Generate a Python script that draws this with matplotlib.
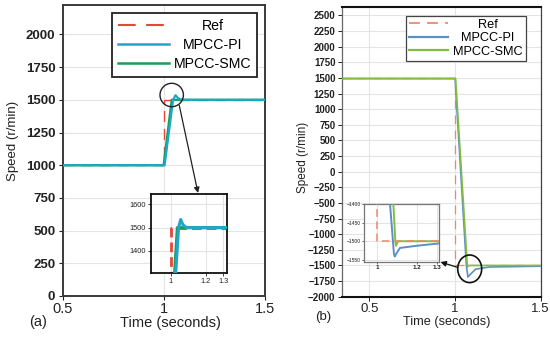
import matplotlib
matplotlib.use("Agg")
import matplotlib.pyplot as plt
from matplotlib.patches import Ellipse, FancyArrowPatch
from matplotlib.lines import Line2D

plt.rcParams['font.family'] = ['Liberation Sans', 'DejaVu Sans']

# ---------------- data ----------------
# panel (a): step 1000 -> 1500 r/min
a_ref_t = [0.5, 1.0, 1.0, 1.5]
a_ref_v = [1000, 1000, 1500, 1500]
a_pi_t = [0.5, 1.003, 1.045, 1.057, 1.07, 1.09, 1.5]
a_pi_v = [1000, 1000, 1500, 1535, 1512, 1500, 1500]
a_smc_t = [0.5, 0.998, 1.038, 1.5]
a_smc_v = [1000, 1000, 1500, 1500]

# panel (b): step 1500 -> -1500 r/min (main plot)
b_ref_t = [0.338, 1.0, 1.0, 1.5]
b_ref_v = [1500, 1500, -1500, -1500]
b_pi_t = [0.338, 1.0, 1.066, 1.075, 1.09, 1.12, 1.2, 1.5]
b_pi_v = [1490, 1490, -1500, -1685, -1640, -1560, -1525, -1512]
b_smc_t = [0.338, 1.003, 1.072, 1.08, 1.5]
b_smc_v = [1490, 1490, -1525, -1500, -1500]

# panel (b) zoomed inset
bi_ref_t = [1.0, 1.0, 1.308]
bi_ref_v = [-1380, -1500, -1500]
bi_pi_t = [1.063, 1.079, 1.084, 1.088, 1.097, 1.114, 1.2, 1.308]
bi_pi_v = [-1390, -1500, -1535, -1541, -1532, -1518, -1512, -1506]
bi_smc_t = [1.080, 1.091, 1.094, 1.104, 1.308]
bi_smc_v = [-1390, -1500, -1512, -1500, -1500]

labels = ["Ref", "MPCC-PI", "MPCC-SMC"]
a_yticks = [0, 250, 500, 750, 1000, 1250, 1500, 1750, 2000]
b_yticks = [-2000, -1750, -1500, -1250, -1000, -750, -500, -250, 0,
            250, 500, 750, 1000, 1250, 1500, 1750, 2000, 2250, 2500]
a_xticks = [0.5, 1, 1.5]
b_xticks = [0.5, 1, 1.5]
ai_yticks = [1400, 1500, 1600]
bi_yticks = [-1550, -1500, -1450, -1400]
in_xticks = [1, 1.2, 1.3]

# colours
ca_ref, ca_pi, ca_smc = '#e5463d', '#1fa6c9', '#1b9c58'
cb_ref, cb_pi, cb_smc = '#ea8a6c', '#5b8fc8', '#84bd3f'

W, H = 550, 339
def fx(x): return x / W
def fy(y): return 1 - y / H

fig = plt.figure(figsize=(5.5, 3.39), dpi=100)
fig.patch.set_facecolor('white')

ax_a = fig.add_axes([fx(63), fy(296), 202 / W, 291 / H])
ax_b = fig.add_axes([fx(341.7), fy(296.7), 199 / W, 289.4 / H])
ins_a = fig.add_axes([fx(151), fy(273.3), 75.7 / W, 79.3 / H])
ins_b = fig.add_axes([fx(364), fy(261.7), 75 / W, 57.7 / H])

grid_kw = dict(color='#e4e4e4', lw=0.8)

# ---------- panel (a) ----------
ax_a.plot(a_ref_t, a_ref_v, color=ca_ref, lw=1.0, dashes=(8, 5), zorder=2)
ax_a.plot(a_smc_t, a_smc_v, color=ca_smc, lw=1.6, zorder=3)
ax_a.plot(a_pi_t, a_pi_v, color=ca_pi, lw=1.6, zorder=4)
ax_a.set_xlim(0.5, 1.5)
ax_a.set_ylim(0, 2225)
ax_a.set_xticks(a_xticks)
ax_a.set_xticklabels(['0.5', '1', '1.5'])
ax_a.set_yticks(a_yticks)
ax_a.grid(True, **grid_kw)
ax_a.set_axisbelow(True)
ax_a.tick_params(axis='y', labelsize=9.5, length=3, width=0.8, pad=2.5, colors='#222')
ax_a.tick_params(axis='x', labelsize=10.5, length=3, width=0.8, pad=1.5, colors='#222')
for lbl in ax_a.get_yticklabels():
    lbl.set_fontweight('bold')
for s in ax_a.spines.values():
    s.set_color('#3a3a3a'); s.set_linewidth(1.4)

ha = [Line2D([], [], color=ca_ref, lw=1.5, dashes=(8.5, 5)),
      Line2D([], [], color=ca_pi, lw=1.8),
      Line2D([], [], color=ca_smc, lw=1.8)]
leg_a = ax_a.legend(ha, labels, loc='upper right', bbox_to_anchor=(0.96, 0.9725),
                    borderaxespad=0, fontsize=10.2, handlelength=3.6, handletextpad=0.35,
                    labelspacing=0.38, borderpad=0.4, fancybox=False, framealpha=1,
                    edgecolor='#222')
leg_a.get_frame().set_linewidth(1.3)

# inset (a)
ins_a.plot(a_ref_t, a_ref_v, color=ca_ref, lw=2.0, dashes=(3.5, 1.8), zorder=2)
ins_a.plot(a_smc_t, a_smc_v, color=ca_smc, lw=2.2, zorder=3)
ins_a.plot(a_pi_t, a_pi_v, color=ca_pi, lw=2.2, zorder=4)
ins_a.set_xlim(0.888, 1.319)
ins_a.set_ylim(1303, 1645)
ins_a.set_xticks(in_xticks)
ins_a.set_xticklabels(['1', '1.2', '1.3'])
ins_a.set_yticks(ai_yticks)
ins_a.grid(True, **grid_kw)
ins_a.set_axisbelow(True)
ins_a.tick_params(labelsize=5.3, length=2, width=0.6, pad=1.5, colors='#222')
for s in ins_a.spines.values():
    s.set_color('#111'); s.set_linewidth(1.3)

# ---------- panel (b) ----------
ax_b.plot(b_pi_t, b_pi_v, color=cb_pi, lw=1.2, zorder=3)
ax_b.plot(b_smc_t, b_smc_v, color=cb_smc, lw=1.2, zorder=4)
ax_b.plot(b_ref_t, b_ref_v, color=cb_ref, lw=0.9, dashes=(7, 5), zorder=2)
ax_b.set_xlim(0.338, 1.5)
ax_b.set_ylim(-2000, 2630)
ax_b.set_xticks(b_xticks)
ax_b.set_xticklabels(['0.5', '1', '1.5'])
ax_b.set_yticks(b_yticks)
ax_b.grid(True, **grid_kw)
ax_b.set_axisbelow(True)
ax_b.tick_params(axis='y', labelsize=7, length=3, width=0.7, pad=1.5, colors='#222')
ax_b.tick_params(axis='x', labelsize=9.5, length=3, width=0.7, pad=1.5, colors='#222')
for lbl in ax_b.get_yticklabels():
    lbl.set_fontweight('bold')
ax_b.spines['top'].set_color('#111'); ax_b.spines['top'].set_linewidth(1.5)
ax_b.spines['bottom'].set_color('#111'); ax_b.spines['bottom'].set_linewidth(1.5)
ax_b.spines['left'].set_color('#666'); ax_b.spines['left'].set_linewidth(0.9)
ax_b.spines['right'].set_color('#444'); ax_b.spines['right'].set_linewidth(0.9)

hb = [Line2D([], [], color=cb_ref, lw=1.3, dashes=(6, 4)),
      Line2D([], [], color=cb_pi, lw=1.6),
      Line2D([], [], color=cb_smc, lw=1.6)]
leg_b = ax_b.legend(hb, labels, loc='upper right', bbox_to_anchor=(0.9246, 0.971),
                    borderaxespad=0, fontsize=9.2, handlelength=3.0, handletextpad=0.4,
                    labelspacing=0.12, borderpad=0.25, fancybox=False, framealpha=1,
                    edgecolor='#444')
leg_b.get_frame().set_linewidth(0.9)

# inset (b)
ins_b.plot(bi_pi_t, bi_pi_v, color=cb_pi, lw=1.4, zorder=3)
ins_b.plot(bi_smc_t, bi_smc_v, color=cb_smc, lw=1.4, zorder=4)
ins_b.plot(bi_ref_t, bi_ref_v, color=cb_ref, lw=1.1, dashes=(5, 3), zorder=5)
ins_b.set_xlim(0.935, 1.308)
ins_b.set_ylim(-1555, -1400)
ins_b.set_xticks(in_xticks)
ins_b.set_xticklabels(['1', '1.2', '1.3'])
ins_b.set_yticks(bi_yticks)
ins_b.grid(True, **grid_kw)
ins_b.set_axisbelow(True)
ins_b.tick_params(axis='y', labelsize=3.6, length=1.5, width=0.5, pad=1, colors='#222')
ins_b.tick_params(axis='x', labelsize=4.5, length=1.5, width=0.5, pad=1, colors='#222')
for lbl in ins_b.get_xticklabels():
    lbl.set_fontweight('bold')
for s in ins_b.spines.values():
    s.set_color('#777'); s.set_linewidth(0.9)

# ---------- labels ----------
fig.text(fx(170), fy(323), 'Time (seconds)', ha='center', va='center', fontsize=10.5, color='#222')
fig.text(fx(13.5), fy(141), 'Speed (r/min)', ha='center', va='center', rotation=90,
         fontsize=9.5, color='#222')
fig.text(fx(38), fy(322), '(a)', ha='center', va='center', fontsize=10.5, color='#222')

fig.text(fx(446.7), fy(321.7), 'Time (seconds)', ha='center', va='center', fontsize=9.2, color='#222')
fig.text(fx(303), fy(157.5), 'Speed (r/min)', ha='center', va='center', rotation=90,
         fontsize=8.5, color='#222')
fig.text(fx(323), fy(317), '(b)', ha='center', va='center', fontsize=9.5, color='#222')

# ---------- circles and arrows ----------
fig.add_artist(Ellipse((fx(171.7), fy(95)), 2 * 11.7 / W, 2 * 11.7 / H,
                       transform=fig.transFigure, fill=False, ec='#222', lw=1.0, zorder=10))
fig.add_artist(FancyArrowPatch((fx(179.3), fy(105.5)), (fx(198), fy(193)),
                               transform=fig.transFigure, arrowstyle='-|>', mutation_scale=8,
                               color='#222', lw=0.9, shrinkA=0, shrinkB=0, zorder=10))
fig.add_artist(Ellipse((fx(469.7), fy(268.8)), 2 * 12 / W, 2 * 13.8 / H,
                       transform=fig.transFigure, fill=False, ec='#111', lw=1.2, zorder=10))
fig.add_artist(FancyArrowPatch((fx(458), fy(267.5)), (fx(440.5), fy(262)),
                               transform=fig.transFigure, arrowstyle='-|>', mutation_scale=8,
                               color='#111', lw=0.9, shrinkA=0, shrinkB=0, zorder=10))

# ---------- centre legend texts ----------
fig.canvas.draw()
for leg in (leg_a, leg_b):
    widths = [t.get_window_extent().width for t in leg.get_texts()]
    wmax = max(widths)
    for t, w in zip(leg.get_texts(), widths):
        t.set_position(((wmax - w) / 2.0, 0))

fig.savefig('out.png', dpi=100, facecolor='white')
